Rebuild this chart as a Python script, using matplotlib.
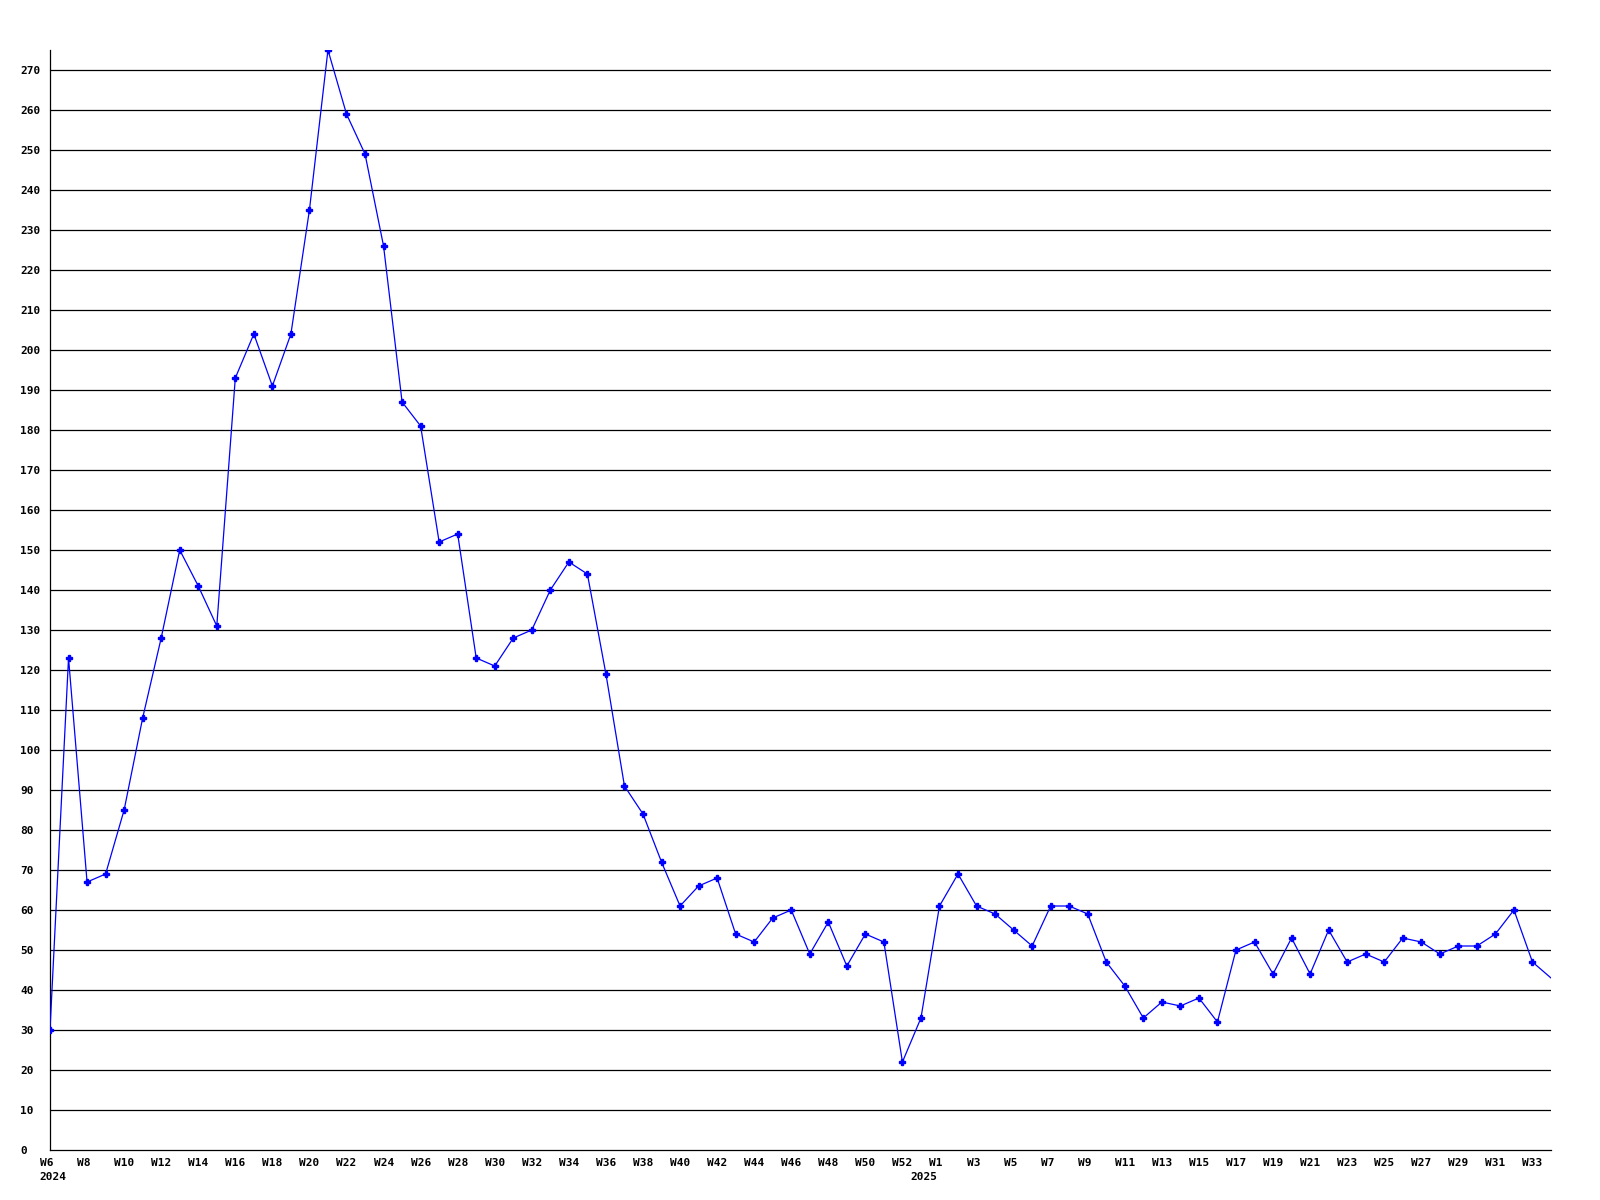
import matplotlib
matplotlib.use("Agg")
import matplotlib.pyplot as plt
import matplotlib.transforms as mtransforms

# weekly counts, 2024 W6 .. W53, then 2025 W1 .. W34
weeks_2024 = [f"W{w}" for w in range(6, 54)]
weeks_2025 = [f"W{w}" for w in range(1, 35)]
values_2024 = [30, 123, 67, 69, 85, 108, 128, 150, 141, 131,
               193, 204, 191, 204, 235, 275, 259, 249, 226, 187,
               181, 152, 154, 123, 121, 128, 130, 140, 147, 144,
               119, 91, 84, 72, 61, 66, 68, 54, 52, 58,
               60, 49, 57, 46, 54, 52, 22, 33]
values_2025 = [61, 69, 61, 59, 55, 51, 61, 61, 59, 47,
               41, 33, 37, 36, 38, 32, 50, 52, 44, 53,
               44, 55, 47, 49, 47, 53, 52, 49, 51, 51,
               54, 60, 47, 43]

weeks = weeks_2024 + weeks_2025
values = values_2024 + values_2025
x = list(range(len(values)))

plt.rcParams["font.family"] = ["DejaVu Sans Mono"]
plt.rcParams["font.weight"] = "bold"

fig = plt.figure(figsize=(16, 12), dpi=100, facecolor="white")
ax = fig.add_axes([50 / 1600, 50 / 1200, 1501 / 1600, 1100 / 1200])

ax.set_xlim(0, 81)
ax.set_ylim(0, 275)

# horizontal grid, 1 px
for yv in range(10, 271, 10):
    ax.axhline(yv, color="black", lw=0.9, zorder=1)

# last point sits on the right edge, no marker there
ax.plot(x, values, color="#0000ff", lw=0.9, marker="P", ms=4,
        mec="#0000ff", mfc="#0000ff", markevery=list(range(len(values) - 1)),
        zorder=3)

for s in ["top", "right"]:
    ax.spines[s].set_visible(False)
for s in ["left", "bottom"]:
    ax.spines[s].set_color("black")
    ax.spines[s].set_linewidth(0.9)

# y ticks, left aligned text
ax.set_yticks(range(0, 271, 10))
ax.set_yticklabels([str(v) for v in range(0, 271, 10)])
ax.tick_params(axis="y", length=0, pad=21.5, labelsize=8)
for lab in ax.get_yticklabels():
    lab.set_horizontalalignment("left")

# x labels every second week
ax.set_xticks([])
offset = mtransforms.ScaledTranslation(-10 / 100, -8 / 100, fig.dpi_scale_trans)
xt = ax.get_xaxis_transform() + offset
for i in range(0, len(weeks), 2):
    ax.text(i, 0, weeks[i], transform=xt, ha="left", va="top",
            fontsize=8, fontweight="bold")

year_off = mtransforms.ScaledTranslation(3 / 100, -22 / 100, fig.dpi_scale_trans)
yt = ax.get_xaxis_transform() + year_off
ax.text(0, 0, "2024", transform=yt, ha="center", va="top", fontsize=8, fontweight="bold")
ax.text(len(weeks_2024) - 1, 0, "2025", transform=yt, ha="center", va="top",
        fontsize=8, fontweight="bold")

fig.savefig("out.png", dpi=100, facecolor="white")
